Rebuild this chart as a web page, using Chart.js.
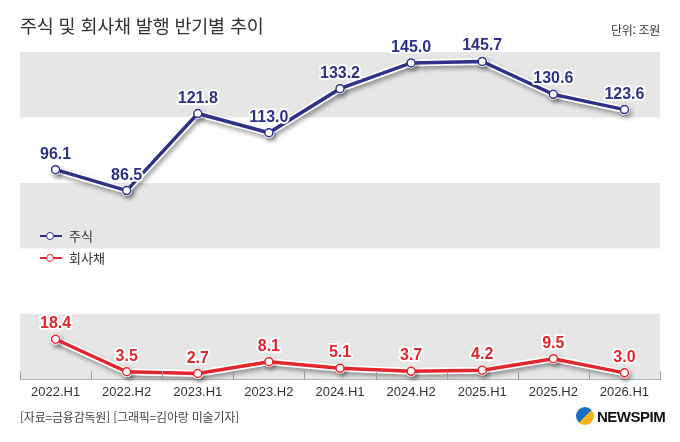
<!DOCTYPE html>
<html lang="ko">
<head>
<meta charset="utf-8">
<script src="https://cdn.jsdelivr.net/npm/chart.js@4.4.0/dist/chart.umd.min.js"></script>
<style>
  body { margin: 0; background: #fff; }
  #wrap { position: relative; width: 680px; height: 442px; font-family: "Noto Sans CJK KR", sans-serif; color: #333; }
  #chart { position: absolute; left: 0; top: 0; }
  .title { position: absolute; left: 20px; top: 12px; font-size: 18.5px; letter-spacing: -0.2px; line-height: 26px; color: #333; }
  .unit { position: absolute; right: 20px; top: 22px; font-size: 12px; letter-spacing: -0.3px; line-height: 16px; color: #333; }
  .source { position: absolute; left: 20px; top: 409px; font-size: 12px; letter-spacing: -0.2px; line-height: 16px; color: #444; }
  .legend { position: absolute; left: 40px; top: 225px; font-size: 13px; line-height: 18px; }
  .legend div { display: flex; align-items: center; height: 22px; }
  .legend .mk { position: relative; width: 22px; height: 12px; margin-right: 7px; }
  .legend .mk i { position: absolute; left: 0; right: 0; top: 5px; height: 2px; }
  .legend .mk b { position: absolute; left: 7px; top: 2px; width: 6px; height: 6px; border-radius: 50%; background: #fff; border: 1.5px solid; box-sizing: content-box; margin-left: -1px; }
  .logo { position: absolute; left: 576px; top: 407px; display: flex; align-items: center; }
  .logo .ic { width: 18px; height: 18px; border-radius: 50%; background: linear-gradient(135deg, #1b6fc2 0%, #1b6fc2 50%, #f2b417 50%, #f2b417 100%); margin-right: 3px; }
  .logo span { font-family: "Liberation Sans", Arial, sans-serif; font-weight: bold; font-size: 15px; letter-spacing: -0.5px; color: #111; }
</style>
</head>
<body>
<div id="wrap">
  <canvas id="chart" width="680" height="442"></canvas>
  <div class="title">주식 및 회사채 발행 반기별 추이</div>
  <div class="unit">단위: 조원</div>
  <div class="legend">
    <div><span class="mk"><i style="background:#2d3187"></i><b style="border-color:#2d3187"></b></span>주식</div>
    <div><span class="mk"><i style="background:#e1262c"></i><b style="border-color:#e1262c"></b></span>회사채</div>
  </div>
  <div class="source">[자료=금융감독원] [그래픽=김아랑 미술기자]</div>
  <div class="logo"><div class="ic"></div><span>NEWSPIM</span></div>
</div>
<script>
const periods = ['2022.H1', '2022.H2', '2023.H1', '2023.H2', '2024.H1', '2024.H2', '2025.H1', '2025.H2', '2026.H1'];
const stocks = [96.1, 86.5, 121.8, 113.0, 133.2, 145.0, 145.7, 130.6, 123.6];
const bonds = [18.4, 3.5, 2.7, 8.1, 5.1, 3.7, 4.2, 9.5, 3.0];

const NAVY = '#2d3187';
const RED = '#e1262c';

// alternating gray bands behind the plot, one per y tick step
const bandPlugin = {
  id: 'bands',
  beforeDatasetsDraw(chart) {
    const { ctx, chartArea, scales: { y } } = chart;
    const ticks = y.ticks;
    ctx.save();
    ctx.fillStyle = '#e6e6e6';
    for (let i = 0; i < ticks.length - 1; i += 2) {
      const y0 = y.getPixelForValue(ticks[i].value);
      const y1 = y.getPixelForValue(ticks[i + 1].value);
      ctx.fillRect(chartArea.left, y1, chartArea.right - chartArea.left, y0 - y1);
    }
    ctx.restore();
  }
};

// short tick marks on the x axis at category boundaries, pointing up
const tickPlugin = {
  id: 'xticks',
  afterDraw(chart) {
    const { ctx, chartArea, scales: { x } } = chart;
    ctx.save();
    ctx.strokeStyle = '#999';
    ctx.lineWidth = 1;
    const bottom = chartArea.bottom;
    for (let i = 0; i <= periods.length; i++) {
      let px;
      if (i === 0) px = chartArea.left;
      else if (i === periods.length) px = chartArea.right;
      else px = (x.getPixelForValue(i - 1) + x.getPixelForValue(i)) / 2;
      ctx.beginPath();
      ctx.moveTo(Math.round(px) + 0.5, bottom);
      ctx.lineTo(Math.round(px) + 0.5, bottom - 8);
      ctx.stroke();
    }
    ctx.restore();
  }
};

// soft shadow under the white outline lines
const shadowPlugin = {
  id: 'shadow',
  beforeDatasetDraw(chart, args) {
    if (!chart.data.datasets[args.index].outline) return;
    const ctx = chart.ctx;
    ctx.save();
    ctx.shadowColor = 'rgba(0,0,0,0.35)';
    ctx.shadowBlur = 4;
    ctx.shadowOffsetX = 2;
    ctx.shadowOffsetY = 3;
  },
  afterDatasetDraw(chart, args) {
    if (!chart.data.datasets[args.index].outline) return;
    chart.ctx.restore();
  }
};

// value labels with white halo
const labelPlugin = {
  id: 'valueLabels',
  afterDatasetsDraw(chart) {
    const ctx = chart.ctx;
    ctx.save();
    ctx.font = 'bold 16px "Liberation Sans", Arial, sans-serif';
    ctx.textAlign = 'center';
    ctx.textBaseline = 'alphabetic';
    ctx.lineJoin = 'round';
    chart.data.datasets.forEach((ds, di) => {
      if (ds.outline) return;
      const meta = chart.getDatasetMeta(di);
      meta.data.forEach((pt, i) => {
        const txt = ds.data[i].toFixed(1);
        ctx.lineWidth = 4;
        ctx.strokeStyle = '#fff';
        ctx.strokeText(txt, pt.x, pt.y - 11);
        ctx.fillStyle = ds.borderColor;
        ctx.fillText(txt, pt.x, pt.y - 11);
      });
    });
    ctx.restore();
  }
};

new Chart(document.getElementById('chart'), {
  type: 'line',
  data: {
    labels: periods,
    datasets: [
      { label: '주식', data: stocks, borderColor: NAVY, backgroundColor: '#fff', borderWidth: 3.5,
        pointRadius: 4, pointBorderWidth: 1.5, pointBackgroundColor: '#fff', pointBorderColor: NAVY, order: 1, clip: false },
      { label: '회사채', data: bonds, borderColor: RED, backgroundColor: '#fff', borderWidth: 3.5,
        pointRadius: 4, pointBorderWidth: 1.5, pointBackgroundColor: '#fff', pointBorderColor: RED, order: 1, clip: false },
      { label: 'stocks-outline', outline: true, data: stocks, borderColor: '#fff', borderWidth: 7,
        pointRadius: 5.5, pointBackgroundColor: '#fff', pointBorderWidth: 0, order: 2, clip: false },
      { label: 'bonds-outline', outline: true, data: bonds, borderColor: '#fff', borderWidth: 7,
        pointRadius: 5.5, pointBackgroundColor: '#fff', pointBorderWidth: 0, order: 2, clip: false }
    ]
  },
  options: {
    responsive: false,
    animation: false,
    layout: { padding: { left: 20, right: 20, top: 52, bottom: 45 } },
    plugins: { legend: { display: false }, tooltip: { enabled: false } },
    scales: {
      x: {
        offset: true,
        grid: { display: false },
        border: { display: true, color: '#999', width: 1 },
        ticks: { color: '#333', padding: -3, font: { family: '"Liberation Sans", Arial, sans-serif', size: 13 }, maxRotation: 0 }
      },
      y: {
        display: false,
        min: 0,
        max: 150,
        ticks: { stepSize: 30 }
      }
    }
  },
  plugins: [bandPlugin, tickPlugin, shadowPlugin, labelPlugin]
});
</script>
</body>
</html>
